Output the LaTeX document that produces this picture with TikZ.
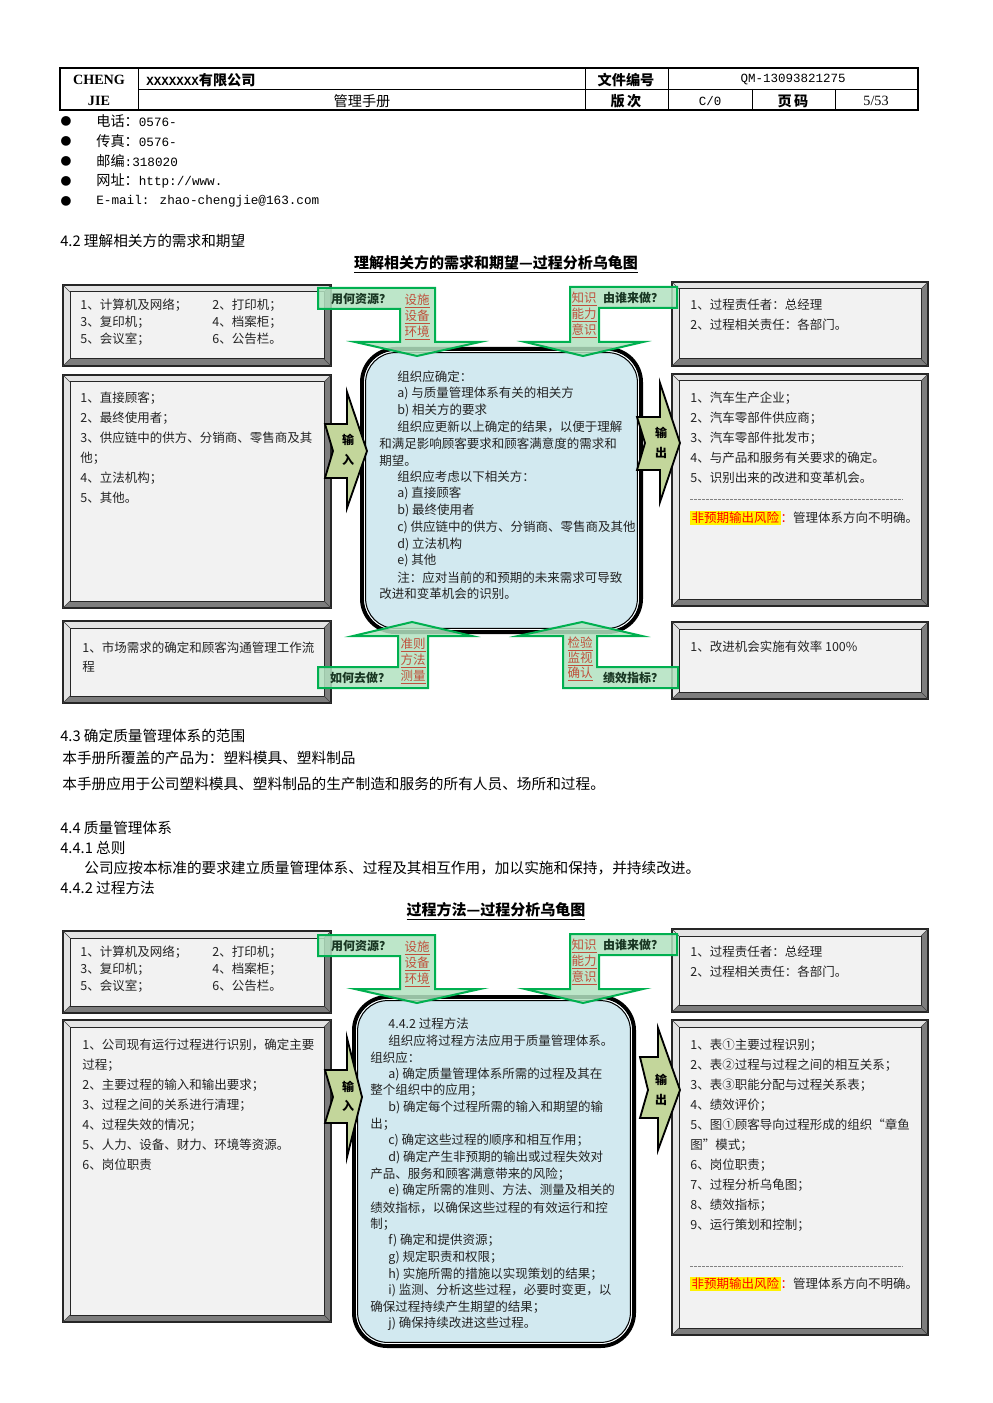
\documentclass[tikz,border=0pt]{standalone}
\usepackage{fontspec}
\setmainfont{Noto Sans CJK SC}
\newfontfamily\tms{Liberation Serif}
\newfontfamily\mono{Liberation Mono}
\definecolor{bevL}{RGB}{228,228,228}
\definecolor{bevD}{RGB}{125,125,125}
\definecolor{face}{RGB}{242,242,242}
\definecolor{cfill}{RGB}{210,233,240}
\definecolor{gfill}{RGB}{178,226,192}
\definecolor{gline}{RGB}{0,176,80}
\definecolor{afill}{RGB}{195,214,155}
\definecolor{lred}{RGB}{192,80,60}
\definecolor{gtxt}{RGB}{25,55,35}
\definecolor{txtc}{RGB}{35,35,35}
\newcommand\ind{\hspace*{10.8pt}}
\newcommand\mn[1]{{\mono\fontsize{7.6}{9}\selectfont #1}}
\newcommand\bevbox[5]{%
  \fill[bevL] (#2,#3) -- (#4,#3) -- ({#4-7},{#3+7}) -- ({#2+7},{#3+7}) -- ({#2+7},{#5-7}) -- (#2,#5) -- cycle;
  \fill[bevD] (#4,#3) -- (#4,#5) -- (#2,#5) -- ({#2+7},{#5-7}) -- ({#4-7},{#5-7}) -- ({#4-7},{#3+7}) -- cycle;
  \draw[draw=black!85, line width=0.6pt, fill=face] ({#2+7},{#3+7}) rectangle ({#4-7},{#5-7});
  \draw[black!85, line width=0.8pt] (#2,#3) rectangle (#4,#5);
  \draw[black!75, line width=0.4pt] (#2,#3) -- ({#2+7},{#3+7}) (#4,#3) -- ({#4-7},{#3+7}) (#2,#5) -- ({#2+7},{#5-7}) (#4,#5) -- ({#4-7},{#5-7});
  \coordinate (#1) at ({(#2+#4)/2},{(#3+#5)/2});
}
\newcommand\cbox[5]{%
  \draw[draw=black, line width=2.4pt, fill=cfill, rounded corners=20pt] ({#2+2},{#3+2}) rectangle ({#4-2},{#5-2});
  \draw[white, line width=0.5pt, rounded corners=18.5pt] ({#2+4.6},{#3+4.6}) rectangle ({#4-4.6},{#5-4.6});
  \draw[black, line width=0.6pt, rounded corners=18pt] ({#2+5.6},{#3+5.6}) rectangle ({#4-5.6},{#5-5.6});
  \coordinate (#1) at ({(#2+#4)/2},{(#3+#5)/2});
}
\newcommand\txtlines[5]{%
  \foreach \lnt [count=\lni] in {#5}{
    \node[btxt] (#1-\lni) at (#2,{#3+(\lni-1)*#4}) {\lnt};
  }
}
\newcommand\risk{\setlength{\fboxsep}{0.8pt}\colorbox{yellow}{\textcolor{red}{非预期输出风险}}\textcolor{red}{：}管理体系方向不明确。}
\begin{document}
\begin{tikzpicture}[x=0.6pt,y=-0.6pt,
  btxt/.style={anchor=west, inner sep=0, font=\fontsize{7.5}{9}\selectfont, text=txtc},
  body/.style={anchor=west, inner sep=0, font=\fontsize{8.8}{10}\selectfont},
  ttl/.style={inner sep=0, font=\bfseries\fontsize{9}{10}\selectfont},
  hd/.style={inner sep=0, font=\fontsize{8.5}{10}\selectfont},
  hdb/.style={inner sep=0, font=\bfseries\fontsize{8.5}{10}\selectfont},
  garrow/.style={draw=gline, line width=1.2pt, fill=gfill, fill opacity=0.85, line join=miter},
  barrow/.style={draw=black, line width=1.1pt, fill=afill, line join=miter},
  glab/.style={inner sep=0, font=\bfseries\fontsize{7.2}{8}\selectfont, text=gtxt},
  rlab/.style={inner sep=0, font=\fontsize{7.5}{8}\selectfont, text=lred},
  alab/.style={inner sep=0, font=\bfseries\fontsize{7.2}{8}\selectfont, text=black},
  dsep/.style={gray, line width=0.4pt, dash pattern=on 1.6pt off 0.8pt}
]
\useasboundingbox (0,0) rectangle (992,1403);
\fill[white] (0,0) rectangle (992,1403);

% ---------- header ----------
\draw[line width=0.7pt] (60,68) rectangle (918,110);
\draw[line width=1.1pt] (60,110) -- (918,110);
\draw[line width=0.5pt] (138,68) -- (138,110) (585,68) -- (585,110) (668,68) -- (668,110)
  (752,89) -- (752,110) (835,89) -- (835,110) (138,89) -- (918,89);
\node[hdb, font=\tms\bfseries\fontsize{8.5}{10}\selectfont] (hA) at (99,80) {CHENG};
\node[hdb, font=\tms\bfseries\fontsize{8.5}{10}\selectfont] (hB) at (99,101) {JIE};
\node[hdb, anchor=west] (hC) at (146,80) {{\mono\bfseries\fontsize{7.5}{9}\selectfont XXXXXXX}有限公司};
\node[hd] (hD) at (362,101) {管理手册};
\node[hdb] (hE) at (626,80) {文件编号};
\node[hdb] (hF) at (626,101) {版\,次};
\node[hd, font=\mono\fontsize{7.5}{9}\selectfont] (hG) at (793,80) {QM-13093821275};
\node[hd, font=\mono\fontsize{7.5}{9}\selectfont] (hH) at (710,101) {C/0};
\node[hdb] (hI) at (793,101) {页\,码};
\node[hd, font=\tms\fontsize{8.5}{10}\selectfont] (hJ) at (876,101) {5/53};

% ---------- bullets ----------
\foreach \bt [count=\bi] in {{电话：\mn{0576-}},{传真：\mn{0576-}},{邮编\mn{:318020}},{网址：\mn{http://www.}},{\mn{E-mail: zhao-chengjie@163.com}}}{
  \node[inner sep=0, font=\fontsize{6.5}{8}\selectfont] (bul-\bi) at (66,{121+(\bi-1)*20}) {●};
  \node[body, font=\fontsize{8.5}{10}\selectfont] (bt-\bi) at (96,{121+(\bi-1)*20}) {\bt};
}

% ---------- section 4.2 ----------
\node[body] (s42) at (60,241) {4.2 理解相关方的需求和期望};
\node[ttl] (t1) at (496,264) {\underline{理解相关方的需求和期望—过程分析乌龟图}};

% ---------- turtle 1 ----------
\bevbox{tl1}{63}{285}{331}{366}
\bevbox{lm1}{63}{375}{331}{608}
\bevbox{lb1}{63}{621}{331}{703}
\bevbox{rt1}{672}{282}{928}{366}
\bevbox{rm1}{672}{374}{928}{606}
\bevbox{rb1}{672}{622}{928}{699}
\cbox{c1}{360}{347}{643}{634}

\txtlines{tla}{80}{305}{17}{{1、计算机及网络；},{3、复印机；},{5、会议室；}}
\txtlines{tlb}{212}{305}{17}{{2、打印机；},{4、档案柜；},{6、公告栏。}}
\txtlines{lmt}{80}{398}{20}{{1、直接顾客；},{2、最终使用者；},{3、供应链中的供方、分销商、零售商及其},{他；},{4、立法机构；},{5、其他。}}
\txtlines{lbt}{82}{648}{19}{{1、市场需求的确定和顾客沟通管理工作流},{程}}
\txtlines{rtt}{690}{305}{20}{{1、过程责任者：总经理},{2、过程相关责任：各部门。}}
\txtlines{rmt}{690}{398}{20}{{1、汽车生产企业；},{2、汽车零部件供应商；},{3、汽车零部件批发市；},{4、与产品和服务有关要求的确定。},{5、识别出来的改进和变革机会。}}
\coordinate (d1a) at (690,499); \coordinate (d1b) at (903,499);
\draw[dsep] (d1a) -- (d1b);
\node[btxt] (rk1) at (690,518) {\risk};
\node[btxt] (rbt) at (690,647) {1、改进机会实施有效率 100\%};

\txtlines{c1t}{379}{377}{16.7}{{\ind 组织应确定：},{\ind a) 与质量管理体系有关的相关方},{\ind b) 相关方的要求},{\ind 组织应更新以上确定的结果，以便于理解},{和满足影响顾客要求和顾客满意度的需求和},{期望。},{\ind 组织应考虑以下相关方：},{\ind a) 直接顾客},{\ind b) 最终使用者},{\ind c) 供应链中的供方、分销商、零售商及其他},{\ind d) 立法机构},{\ind e) 其他},{\ind 注：应对当前的和预期的未来需求可导致},{改进和变革机会的识别。}}

% input / output arrows
\draw[barrow] (325,424) -- (347,424) -- (347,392) -- (367,451) -- (347,508) -- (347,478) -- (325,478) -- (333,451) -- cycle;
\node[alab] (in1a) at (348,440) {输};
\node[alab] (in1b) at (348,460) {入};
\draw[barrow] (637,417) -- (660,417) -- (660,383) -- (680,443) -- (660,502) -- (660,470) -- (637,470) -- (645,443) -- cycle;
\node[alab] (out1a) at (661,433) {输};
\node[alab] (out1b) at (661,453) {出};

% green arrows
\draw[garrow] (318,288) -- (435,288) -- (435,342) -- (480,342) -- (417,356) -- (355,342) -- (400,342) -- (400,309) -- (318,309) -- cycle;
\node[glab] (g1a) at (361,299) {用何资源？};
\node[rlab] (r1a) at (417,301) {\underline{设施}};
\node[rlab] (r1b) at (417,317) {\underline{设备}};
\node[rlab] (r1c) at (417,333) {\underline{环境}};
\draw[garrow] (677,287) -- (570,287) -- (570,342) -- (525,342) -- (583,356) -- (643,342) -- (599,342) -- (599,308) -- (677,308) -- cycle;
\node[glab] (g1b) at (633,298) {由谁来做？};
\node[rlab] (r1d) at (584,299) {\underline{知识}};
\node[rlab] (r1e) at (584,315) {\underline{能力}};
\node[rlab] (r1f) at (584,331) {\underline{意识}};
\draw[garrow] (318,688) -- (428,688) -- (428,636) -- (472,636) -- (412,622) -- (353,636) -- (398,636) -- (398,667) -- (318,667) -- cycle;
\node[glab] (g1c) at (360,678) {如何去做？};
\node[rlab] (r1g) at (413,645) {\underline{准则}};
\node[rlab] (r1h) at (413,661) {\underline{方法}};
\node[rlab] (r1i) at (413,677) {\underline{测量}};
\draw[garrow] (678,688) -- (563,688) -- (563,636) -- (518,636) -- (582,622) -- (642,636) -- (597,636) -- (597,667) -- (678,667) -- cycle;
\node[glab] (g1d) at (633,678) {绩效指标？};
\node[rlab] (r1j) at (580,644) {\underline{检验}};
\node[rlab] (r1k) at (580,659) {\underline{监视}};
\node[rlab] (r1l) at (580,674) {\underline{确认}};

% ---------- sections 4.3 / 4.4 ----------
\node[body] (s43) at (60,736) {4.3 确定质量管理体系的范围};
\node[body] (s43a) at (62,758) {本手册所覆盖的产品为：塑料模具、塑料制品};
\node[body] (s43b) at (62,784) {本手册应用于公司塑料模具、塑料制品的生产制造和服务的所有人员、场所和过程。};
\node[body] (s44) at (60,828) {4.4 质量管理体系};
\node[body] (s441) at (60,848) {4.4.1 总则};
\node[body] (s441a) at (84,868) {公司应按本标准的要求建立质量管理体系、过程及其相互作用，加以实施和保持，并持续改进。};
\node[body] (s442) at (60,888) {4.4.2 过程方法};
\node[ttl] (t2) at (496,911) {\underline{过程方法—过程分析乌龟图}};

% ---------- turtle 2 ----------
\bevbox{tl2}{63}{931}{331}{1013}
\bevbox{lm2}{63}{1020}{331}{1322}
\bevbox{rt2}{672}{929}{928}{1012}
\bevbox{rm2}{672}{1020}{928}{1335}
\cbox{c2}{352}{995}{636}{1348}

\txtlines{tlc}{80}{952}{17}{{1、计算机及网络；},{3、复印机；},{5、会议室；}}
\txtlines{tld}{212}{952}{17}{{2、打印机；},{4、档案柜；},{6、公告栏。}}
\txtlines{rtu}{690}{952}{20}{{1、过程责任者：总经理},{2、过程相关责任：各部门。}}
\txtlines{lmu}{82}{1045}{20}{{1、公司现有运行过程进行识别，确定主要},{过程；},{2、主要过程的输入和输出要求；},{3、过程之间的关系进行清理；},{4、过程失效的情况；},{5、人力、设备、财力、环境等资源。},{6、岗位职责}}
\txtlines{rmu}{690}{1045}{20}{{1、表①主要过程识别；},{2、表②过程与过程之间的相互关系；},{3、表③职能分配与过程关系表；},{4、绩效评价；},{5、图①顾客导向过程形成的组织“章鱼},{图”模式；},{6、岗位职责；},{7、过程分析乌龟图；},{8、绩效指标；},{9、运行策划和控制；}}
\coordinate (d2a) at (690,1266); \coordinate (d2b) at (903,1266);
\draw[dsep] (d2a) -- (d2b);
\node[btxt] (rk2) at (690,1284) {\risk};

\txtlines{c2t}{370}{1024}{16.67}{{\ind 4.4.2 过程方法},{\ind 组织应将过程方法应用于质量管理体系。},{组织应：},{\ind a) 确定质量管理体系所需的过程及其在},{整个组织中的应用；},{\ind b) 确定每个过程所需的输入和期望的输},{出；},{\ind c) 确定这些过程的顺序和相互作用；},{\ind d) 确定产生非预期的输出或过程失效对},{产品、服务和顾客满意带来的风险；},{\ind e) 确定所需的准则、方法、测量及相关的},{绩效指标，以确保这些过程的有效运行和控},{制；},{\ind f) 确定和提供资源；},{\ind g) 规定职责和权限；},{\ind h) 实施所需的措施以实现策划的结果；},{\ind i) 监测、分析这些过程，必要时变更，以},{确保过程持续产生期望的结果；},{\ind j) 确保持续改进这些过程。}}

\draw[barrow] (325,1070) -- (347,1070) -- (347,1038) -- (362,1097) -- (347,1157) -- (347,1123) -- (325,1123) -- (333,1097) -- cycle;
\node[alab] (in2a) at (348,1087) {输};
\node[alab] (in2b) at (348,1106) {入};
\draw[barrow] (640,1057) -- (658,1057) -- (658,1028) -- (680,1090) -- (658,1150) -- (658,1118) -- (640,1118) -- (648,1090) -- cycle;
\node[alab] (out2a) at (661,1080) {输};
\node[alab] (out2b) at (661,1100) {出};

\draw[garrow] (318,935) -- (435,935) -- (435,989) -- (480,989) -- (417,1003) -- (355,989) -- (400,989) -- (400,956) -- (318,956) -- cycle;
\node[glab] (g2a) at (361,946) {用何资源？};
\node[rlab] (r2a) at (417,948) {\underline{设施}};
\node[rlab] (r2b) at (417,964) {\underline{设备}};
\node[rlab] (r2c) at (417,980) {\underline{环境}};
\draw[garrow] (677,934) -- (570,934) -- (570,989) -- (525,989) -- (583,1003) -- (643,989) -- (599,989) -- (599,955) -- (677,955) -- cycle;
\node[glab] (g2b) at (633,945) {由谁来做？};
\node[rlab] (r2d) at (584,946) {\underline{知识}};
\node[rlab] (r2e) at (584,962) {\underline{能力}};
\node[rlab] (r2f) at (584,978) {\underline{意识}};
\end{tikzpicture}
\end{document}
